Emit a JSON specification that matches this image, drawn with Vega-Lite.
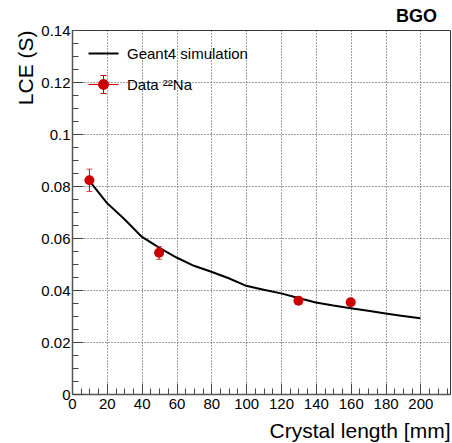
{
  "$schema": "https://vega.github.io/schema/vega-lite/v6.json",
  "width": 378,
  "height": 364,
  "autosize": "none",
  "padding": {"left": 72, "top": 30, "right": 2, "bottom": 49},
  "background": "white",
  "config": {
    "view": {"stroke": "#333", "strokeWidth": 1},
    "font": "Liberation Sans"
  },
  "title": {
    "text": "BGO",
    "anchor": "end",
    "frame": "group",
    "fontSize": 18,
    "fontWeight": "bold",
    "font": "Liberation Sans",
    "color": "black",
    "baseline": "alphabetic",
    "offset": -17,
    "dx": -13
  },
  "datasets": {
    "sim": [
      {"length": 10, "lce": 0.082, "series": "Geant4 simulation"},
      {"length": 20, "lce": 0.0735, "series": "Geant4 simulation"},
      {"length": 30, "lce": 0.0673, "series": "Geant4 simulation"},
      {"length": 40, "lce": 0.0605, "series": "Geant4 simulation"},
      {"length": 50, "lce": 0.0563, "series": "Geant4 simulation"},
      {"length": 60, "lce": 0.0525, "series": "Geant4 simulation"},
      {"length": 70, "lce": 0.0493, "series": "Geant4 simulation"},
      {"length": 80, "lce": 0.047, "series": "Geant4 simulation"},
      {"length": 90, "lce": 0.0445, "series": "Geant4 simulation"},
      {"length": 100, "lce": 0.0416, "series": "Geant4 simulation"},
      {"length": 110, "lce": 0.0401, "series": "Geant4 simulation"},
      {"length": 120, "lce": 0.0387, "series": "Geant4 simulation"},
      {"length": 130, "lce": 0.0369, "series": "Geant4 simulation"},
      {"length": 140, "lce": 0.0352, "series": "Geant4 simulation"},
      {"length": 150, "lce": 0.034, "series": "Geant4 simulation"},
      {"length": 160, "lce": 0.033, "series": "Geant4 simulation"},
      {"length": 170, "lce": 0.032, "series": "Geant4 simulation"},
      {"length": 180, "lce": 0.031, "series": "Geant4 simulation"},
      {"length": 190, "lce": 0.03, "series": "Geant4 simulation"},
      {"length": 200, "lce": 0.0291, "series": "Geant4 simulation"}
    ],
    "meas": [
      {"length": 10, "lce": 0.0822, "lo": 0.0779, "hi": 0.0865, "series": "Data ²²Na"},
      {"length": 50, "lce": 0.0543, "lo": 0.0518, "hi": 0.0567, "series": "Data ²²Na"},
      {"length": 130, "lce": 0.0359, "lo": 0.0349, "hi": 0.0369, "series": "Data ²²Na"},
      {"length": 160, "lce": 0.0353, "lo": 0.0343, "hi": 0.0363, "series": "Data ²²Na"}
    ]
  },
  "encoding": {
    "x": {
      "field": "length",
      "type": "quantitative",
      "scale": {"domain": [0, 217], "nice": false, "zero": false},
      "axis": {
        "title": "Crystal length [mm]",
        "titleFont": "Liberation Sans",
        "titleFontSize": 21,
        "titleFontWeight": "normal",
        "titleColor": "black",
        "titleAnchor": "end",
        "titlePadding": 4,
        "values": [0,5,10,15,20,25,30,35,40,45,50,55,60,65,70,75,80,85,90,95,100,105,110,115,120,125,130,135,140,145,150,155,160,165,170,175,180,185,190,195,200,205,210,215],
        "labelExpr": "datum.value % 20 === 0 ? format(datum.value, 'd') : ''",
        "labelFont": "Liberation Sans",
        "labelFontSize": 15,
        "labelColor": "black",
        "labelOverlap": false,
        "labelBound": false,
        "labelFlush": false,
        "labelPadding": 13,
        "tickSize": {"condition": {"test": "datum.value % 20 === 0", "value": -11}, "value": -6},
        "tickColor": "#444",
        "tickWidth": 1,
        "domainColor": "#555",
        "domainWidth": 1.5,
        "grid": true,
        "gridColor": "#444",
        "gridDash": [1, 2],
        "gridWidth": 1,
        "gridOpacity": {"condition": {"test": "datum.value % 20 === 0 && datum.value > 0", "value": 1}, "value": 0}
      }
    },
    "y": {
      "field": "lce",
      "type": "quantitative",
      "scale": {"domain": [0, 0.14], "nice": false, "zero": false},
      "axis": {
        "title": "LCE (S)",
        "titleFont": "Liberation Sans",
        "titleFontSize": 21,
        "titleFontWeight": "normal",
        "titleColor": "black",
        "titleAnchor": "end",
        "titlePadding": 4,
        "values": [0,0.005,0.01,0.015,0.02,0.025,0.03,0.035,0.04,0.045,0.05,0.055,0.06,0.065,0.07,0.075,0.08,0.085,0.09,0.095,0.1,0.105,0.11,0.115,0.12,0.125,0.13,0.135,0.14],
        "labelExpr": "round(datum.value * 1000) % 20 === 0 ? format(datum.value, '~g') : ''",
        "labelFont": "Liberation Sans",
        "labelFontSize": 15,
        "labelColor": "black",
        "labelOverlap": false,
        "labelBound": false,
        "labelFlush": false,
        "labelPadding": 13,
        "tickSize": {"condition": {"test": "round(datum.value * 1000) % 20 === 0", "value": -11}, "value": -6},
        "tickColor": "#444",
        "tickWidth": 1,
        "domainColor": "#555",
        "domainWidth": 1.5,
        "grid": true,
        "gridColor": "#444",
        "gridDash": [1, 2],
        "gridWidth": 1,
        "gridOpacity": {"condition": {"test": "round(datum.value * 1000) % 20 === 0 && datum.value > 0", "value": 1}, "value": 0}
      }
    }
  },
  "layer": [
    {
      "data": {"name": "sim"},
      "mark": {"type": "line", "strokeWidth": 2},
      "encoding": {
        "color": {
          "field": "series",
          "type": "nominal",
          "scale": {"domain": ["Geant4 simulation", "Data ²²Na"], "range": ["black", "#cc0000"]},
          "legend": {
            "orient": "none",
            "legendX": 24,
            "legendY": 16,
            "title": null,
            "padding": 0,
            "symbolSize": 900,
            "labelFont": "Liberation Sans",
            "labelFontSize": 15,
            "labelColor": "black",
            "labelOffset": 16,
            "rowPadding": 11,
            "encode": {
              "symbols": {
                "update": {
                  "shape": {"signal": "datum.value === 'Geant4 simulation' ? 'stroke' : 'M-1,0H1M0,-0.6V0.6M-0.2,-0.6H0.2M-0.2,0.6H0.2M-0.33,0A0.33,0.33,0,1,0,0.33,0A0.33,0.33,0,1,0,-0.33,0Z'"},
                  "fill": {"signal": "datum.value === 'Geant4 simulation' ? 'transparent' : '#cc0000'"},
                  "stroke": {"signal": "datum.value === 'Geant4 simulation' ? 'black' : '#cc0000'"},
                  "strokeWidth": {"signal": "datum.value === 'Geant4 simulation' ? 2 : 1"},
                  "opacity": {"value": 1}
                }
              }
            }
          }
        }
      }
    },
    {
      "data": {"name": "meas"},
      "mark": {"type": "rule", "color": "#cc0000", "strokeWidth": 1},
      "encoding": {"y": {"field": "lo", "type": "quantitative"}, "y2": {"field": "hi"}}
    },
    {
      "data": {"name": "meas"},
      "mark": {"type": "tick", "orient": "horizontal", "color": "#cc0000", "size": 6, "thickness": 1},
      "encoding": {"y": {"field": "lo", "type": "quantitative"}}
    },
    {
      "data": {"name": "meas"},
      "mark": {"type": "tick", "orient": "horizontal", "color": "#cc0000", "size": 6, "thickness": 1},
      "encoding": {"y": {"field": "hi", "type": "quantitative"}}
    },
    {
      "data": {"name": "meas"},
      "mark": {"type": "point", "filled": true, "opacity": 1, "size": 100, "shape": "circle"},
      "encoding": {
        "color": {"field": "series", "type": "nominal"}
      }
    }
  ]
}
